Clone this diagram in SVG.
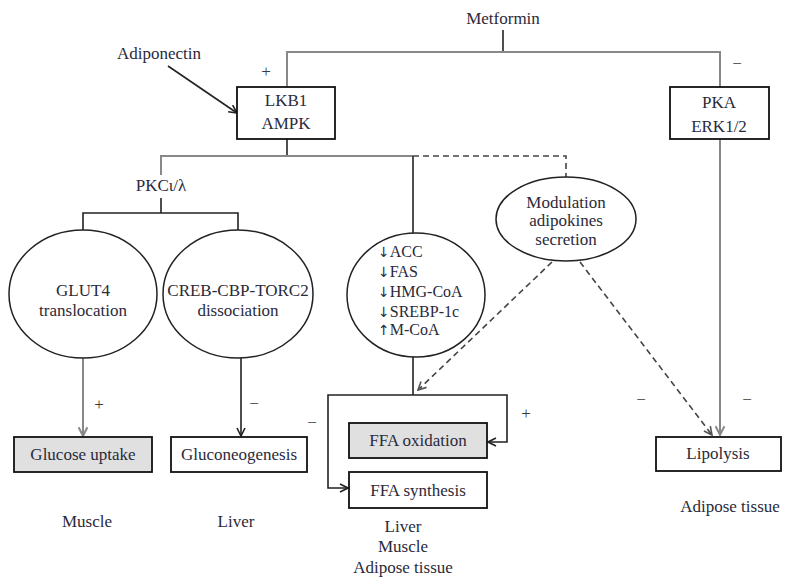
<svg xmlns="http://www.w3.org/2000/svg" width="786" height="579" viewBox="0 0 786 579">
<style>
text{font-family:"Liberation Serif","Times New Roman",serif;font-size:17px;fill:#2a2a3a}
.c{text-anchor:middle}
.s{font-size:16px}
.ar{font-family:"DejaVu Sans",sans-serif;font-size:14px}
.sg{font-size:17px;fill:#3a3a3a}
.k{fill:none;stroke:#222;stroke-width:1.6}
.g{fill:none;stroke:#888;stroke-width:2}
.d{fill:none;stroke:#444;stroke-width:1.6;stroke-dasharray:6,4}
.box{fill:#fff;stroke:#111;stroke-width:1.8}
.gbox{fill:#e0e0e0;stroke:#111;stroke-width:1.8}
.ell{fill:#fff;stroke:#222;stroke-width:1.5}
</style>
<defs>
<marker id="ak" viewBox="0 0 10 10" refX="9" refY="5" markerWidth="10" markerHeight="10" markerUnits="userSpaceOnUse" orient="auto"><path d="M1,1 L9,5 L1,9" fill="none" stroke="#222" stroke-width="1.6"/></marker>
<marker id="ag" viewBox="0 0 10 10" refX="9" refY="5" markerWidth="11" markerHeight="11" markerUnits="userSpaceOnUse" orient="auto"><path d="M1,1 L9,5 L1,9" fill="none" stroke="#888" stroke-width="1.8"/></marker>
<marker id="ad" viewBox="0 0 10 10" refX="9" refY="5" markerWidth="10" markerHeight="10" markerUnits="userSpaceOnUse" orient="auto"><path d="M1,1 L9,5 L1,9" fill="none" stroke="#555" stroke-width="1.6"/></marker>
</defs>

<g id="connectors">
<path class="k" d="M503,30 V52"/>
<path class="g" d="M287,87 V52 H720 V87"/>
<path class="k" d="M168,66 L237,113" marker-end="url(#ak)"/>
<path class="k" d="M287,139 V156"/>
<path class="g" d="M161,175 V156 H413"/>
<path class="k" d="M413,156 V233"/>
<path class="d" d="M413,156 H566 V177"/>
<path class="k" d="M161,198 V213"/>
<path class="k" d="M83,230 V213 H238 V230"/>
<path class="g" d="M83,358 V436" marker-end="url(#ag)"/>
<path class="k" d="M241,358 V436" marker-end="url(#ak)"/>
<path class="k" d="M413,357 V395"/>
<path class="k" d="M413,395 H507 V442 H488" marker-end="url(#ak)"/>
<path class="k" d="M413,395 H328 V488 H348" marker-end="url(#ak)"/>
<path class="d" d="M552,262 L418,390" marker-end="url(#ad)"/>
<path class="d" d="M580,262 L712,435" marker-end="url(#ad)"/>
<path class="g" d="M720,139 V435" marker-end="url(#ag)"/>
</g>

<g id="signs">
<text class="c sg" x="266" y="77">+</text>
<text class="c sg" x="737" y="69">−</text>
<text class="c sg" x="99" y="410">+</text>
<text class="c sg" x="254" y="409">−</text>
<text class="c sg" x="312" y="428">−</text>
<text class="c sg" x="526" y="419">+</text>
<text class="c sg" x="641" y="405">−</text>
<text class="c sg" x="747" y="405">−</text>
</g>

<g id="metformin"><text class="c" x="503" y="24">Metformin</text></g>
<g id="adiponectin"><text class="c" x="159" y="59">Adiponectin</text></g>

<g id="lkb1-ampk">
<rect class="box" x="237" y="87" width="98" height="52"/>
<text class="c" x="286" y="106">LKB1</text>
<text class="c" x="286" y="129">AMPK</text>
</g>

<g id="pka-erk">
<rect class="box" x="670" y="87" width="99" height="52"/>
<text class="c" x="719" y="108">PKA</text>
<text class="c" x="719" y="132">ERK1/2</text>
</g>

<g id="pkc"><text class="c" x="161" y="191">PKCι/λ</text></g>

<g id="glut4">
<ellipse class="ell" cx="83" cy="294" rx="74" ry="64"/>
<text class="c" x="83" y="296">GLUT4</text>
<text class="c" x="83" y="316">translocation</text>
</g>

<g id="creb">
<ellipse class="ell" cx="238" cy="294" rx="75" ry="64"/>
<text class="c" x="238" y="296">CREB-CBP-TORC2</text>
<text class="c" x="238" y="316">dissociation</text>
</g>

<g id="enzymes">
<ellipse class="ell" cx="416" cy="295" rx="69" ry="62"/>
<text class="s" x="378" y="257"><tspan class="ar">↓</tspan>ACC</text>
<text class="s" x="378" y="277"><tspan class="ar">↓</tspan>FAS</text>
<text class="s" x="378" y="297"><tspan class="ar">↓</tspan>HMG-CoA</text>
<text class="s" x="378" y="317"><tspan class="ar">↓</tspan>SREBP-1c</text>
<text class="s" x="378" y="335"><tspan class="ar">↑</tspan>M-CoA</text>
</g>

<g id="modulation">
<ellipse class="ell" cx="566" cy="219" rx="70" ry="42"/>
<text class="c" x="566" y="208">Modulation</text>
<text class="c" x="566" y="226">adipokines</text>
<text class="c" x="566" y="245">secretion</text>
</g>

<g id="glucose-uptake">
<rect class="gbox" x="14" y="437" width="138" height="35"/>
<text class="c" x="83" y="460">Glucose uptake</text>
</g>

<g id="gluconeogenesis">
<rect class="box" x="171" y="437" width="136" height="35"/>
<text class="c" x="239" y="460">Gluconeogenesis</text>
</g>

<g id="ffa-oxidation">
<rect class="gbox" x="349" y="423" width="138" height="35"/>
<text class="c" x="418" y="446">FFA oxidation</text>
</g>

<g id="ffa-synthesis">
<rect class="box" x="349" y="472" width="138" height="36"/>
<text class="c" x="418" y="496">FFA synthesis</text>
</g>

<g id="lipolysis">
<rect class="box" x="656" y="437" width="125" height="34"/>
<text class="c" x="718" y="459">Lipolysis</text>
</g>

<g id="tissues">
<text class="c" x="87" y="527">Muscle</text>
<text class="c" x="236" y="527">Liver</text>
<text class="c" x="403" y="532">Liver</text>
<text class="c" x="403" y="552">Muscle</text>
<text class="c" x="403" y="573">Adipose tissue</text>
<text class="c" x="730" y="512">Adipose tissue</text>
</g>
</svg>
